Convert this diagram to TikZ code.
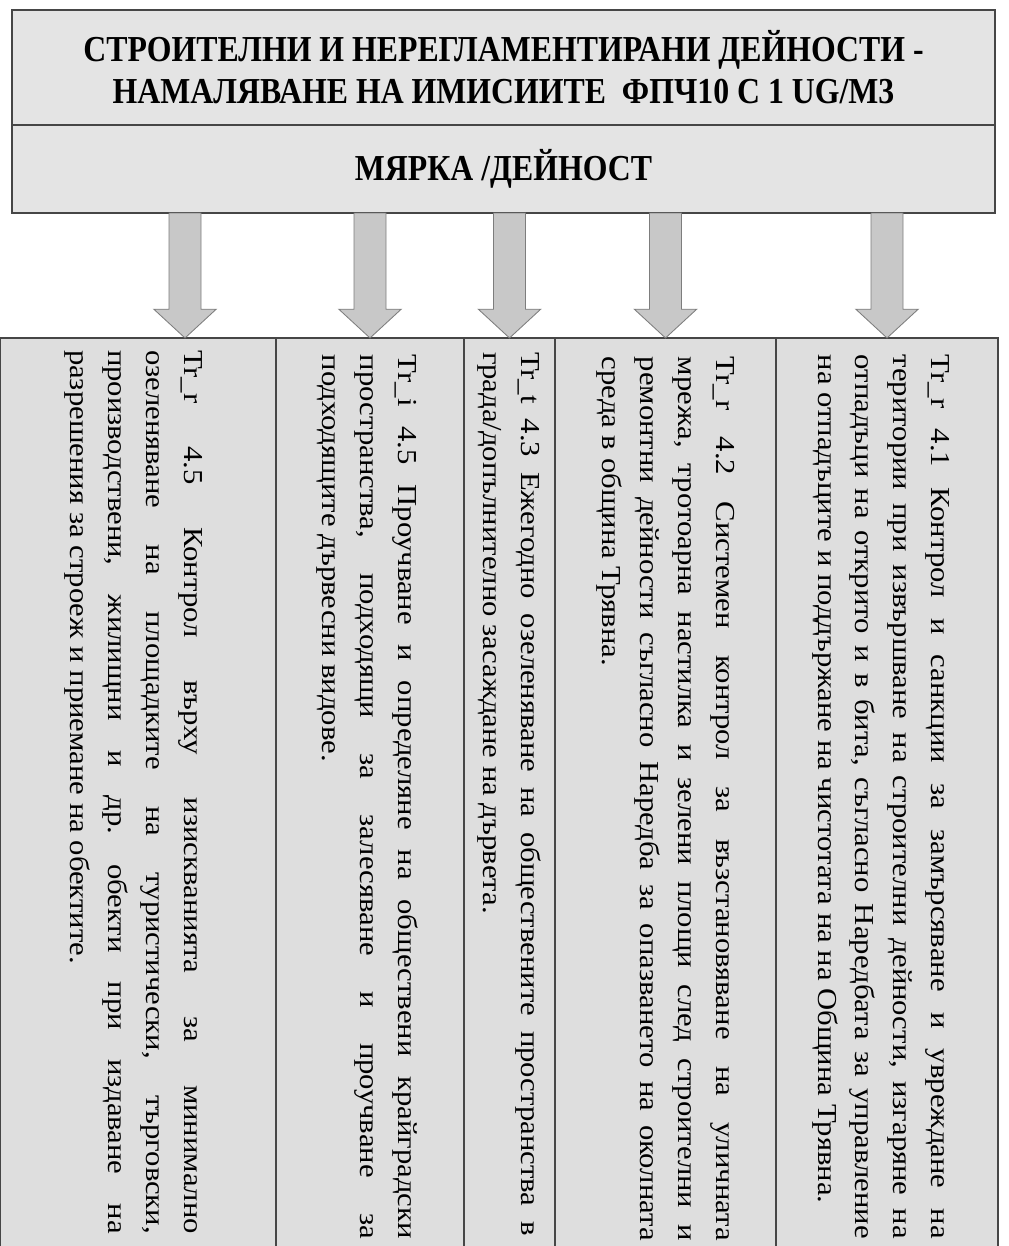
\documentclass[tikz,border=0pt]{standalone}
\usepackage{fontspec}
\setmainfont{Liberation Serif}
\newfontfamily\headfont[FakeStretch=0.87]{Liberation Serif}
\newfontfamily\cellfont[FakeStretch=1.12]{Liberation Serif}
\usetikzlibrary{positioning, calc}
\definecolor{boxfill}{RGB}{228,228,228}
\definecolor{cellfill}{RGB}{222,222,222}
\definecolor{arrowfill}{RGB}{200,200,200}
\definecolor{arrowline}{RGB}{125,125,125}
\definecolor{ruleline}{RGB}{70,70,70}
\tikzset{
    base/.style={inner sep=0pt, outer sep=0pt},
    headbox/.style={base, rectangle, draw=ruleline, fill=boxfill, line width=0.8pt, minimum width=24.575cm, align=center, font=\headfont\bfseries\fontsize{26}{30}\selectfont},
    cell/.style={base, rectangle, draw=ruleline, fill=cellfill, line width=0.8pt, minimum height=22.95cm, anchor=north west},
    celltext/.style={base, rotate=-90, anchor=base west, text width=22.1cm, align=justify, font=\cellfont\fontsize{19.5}{26.9}\selectfont\frenchspacing},
    fatarrow/.style={draw=arrowline, fill=arrowfill, line width=0.6pt,
        to path={($(\tikztostart)+(-0.4,0)$) -- ($(\tikztotarget)+(-0.4,0.72)$) -- ($(\tikztotarget)+(-0.78,0.72)$) -- (\tikztotarget) -- ($(\tikztotarget)+(0.78,0.72)$) -- ($(\tikztotarget)+(0.4,0.72)$) -- ($(\tikztostart)+(0.4,0)$) -- cycle}}
}

\begin{document}
\begin{tikzpicture}
        \path[use as bounding box, clip] (0,0) rectangle (25.2,-31.15);

        % Header
        \node (hdr) [headbox, minimum height=2.875cm, anchor=north west] at (0.3,-0.25) {СТРОИТЕЛНИ И НЕРЕГЛАМЕНТИРАНИ ДЕЙНОСТИ -\\НАМАЛЯВАНЕ НА ИМИСИИТЕ \ ФПЧ10 С 1 UG/M3};
        \node (mark) [headbox, minimum height=2.2cm, below=0pt of hdr] {МЯРКА /ДЕЙНОСТ};

        % Columns
        \node (c1) [cell, minimum width=6.9cm] at (0,-8.45) {};
        \node (c2) [cell, minimum width=4.7cm, right=0pt of c1] {};
        \node (c3) [cell, minimum width=2.275cm, right=0pt of c2] {};
        \node (c4) [cell, minimum width=5.525cm, right=0pt of c3] {};
        \node (c5) [cell, minimum width=5.55cm, right=0pt of c4] {};

        % Measures
        \node (t1) [celltext] at ([xshift=-2.29cm, yshift=-0.3cm]c1.north east) {Tr\_r 4.5 Контрол върху изискванията за минимално\linebreak озеленяване на площадките на туристически, търговски,\linebreak производствени, жилищни и др. обекти при издаване на\linebreak разрешения за строеж и приемане на обектите.};
        \node (t2) [celltext] at ([xshift=-1.64cm, yshift=-0.42cm]c2.north east) {Tr\_i 4.5 Проучване и определяне на обществени крайградски\linebreak пространства, подходящи за залесяване и проучване за\linebreak подходящите дървесни видове.};
        \node (t3) [celltext] at ([xshift=-0.85cm, yshift=-0.35cm]c3.north east) {Tr\_t 4.3 Ежегодно озеленяване на обществените пространства в\linebreak града/допълнително засаждане на дървета.};
        \node (t4) [celltext] at ([xshift=-1.5cm, yshift=-0.47cm]c4.north east) {Tr\_r 4.2 Системен контрол за възстановяване на уличната\linebreak мрежа, тротоарна настилка и зелени площи след строителни и\linebreak ремонтни дейности съгласно Наредба за опазването на околната\linebreak среда в община Трявна.};
        \node (t5) [celltext] at ([xshift=-1.66cm, yshift=-0.42cm]c5.north east) {Tr\_r 4.1 Контрол и санкции за замърсяване и увреждане на\linebreak територии при извършване на строителни дейности, изгаряне на\linebreak отпадъци на открито и в бита, съгласно Наредбата за управление\linebreak на отпадъците и поддържане на чистотата на на Община Трявна.};

        % Arrows
        \coordinate (a1) at ([xshift=1.175cm]c1.north);
        \draw [fatarrow] (mark.south -| a1) to (a1);
        \draw [fatarrow] (mark.south -| c2.north) to (c2.north);
        \draw [fatarrow] (mark.south -| c3.north) to (c3.north);
        \draw [fatarrow] (mark.south -| c4.north) to (c4.north);
        \draw [fatarrow] (mark.south -| c5.north) to (c5.north);
    \end{tikzpicture}
\end{document}
